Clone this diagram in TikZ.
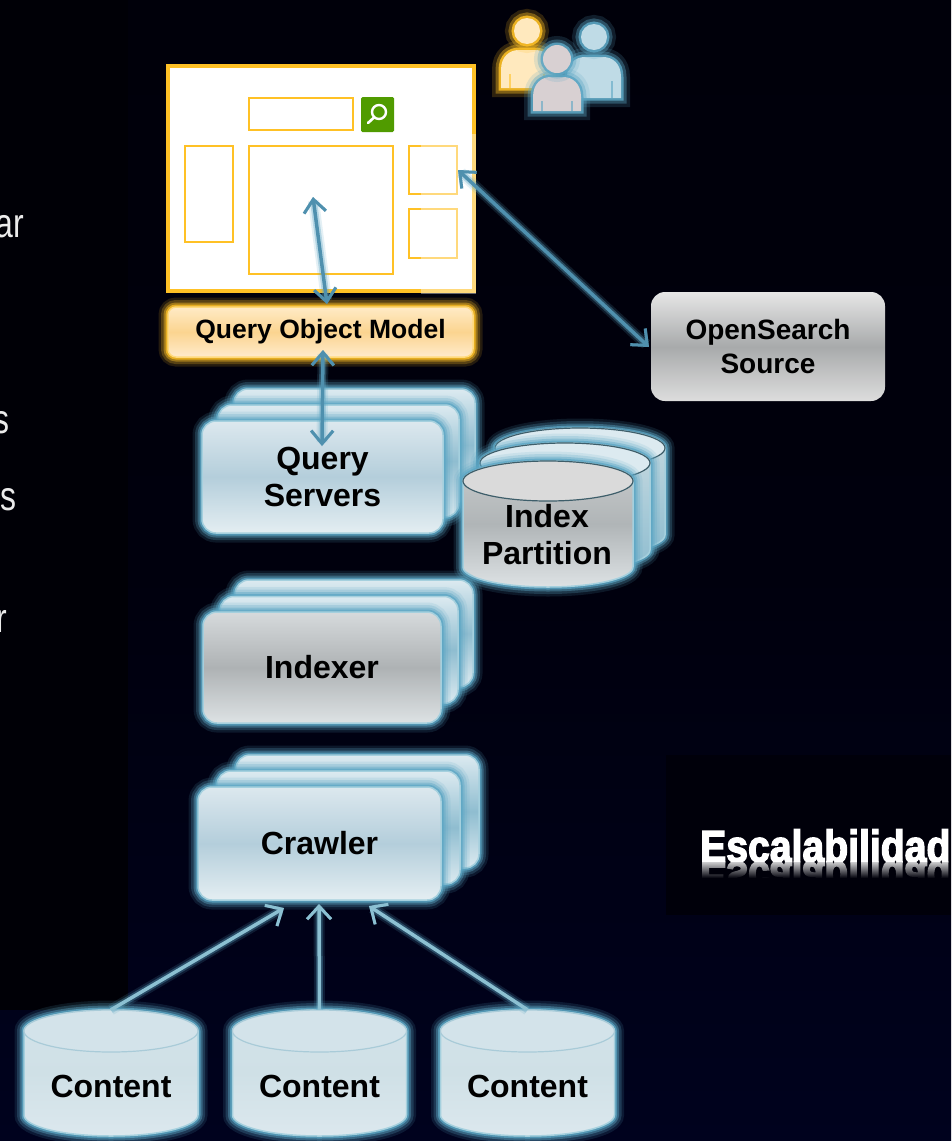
\documentclass[tikz,border=0pt]{standalone}
\usepackage{fontspec}
\setmainfont{Liberation Sans}
\newfontfamily\escfont{Liberation Sans}[BoldFeatures={FakeBold=3.2}]
\usetikzlibrary{arrows.meta,calc}
\definecolor{gold}{HTML}{FFC125}
\definecolor{glowb}{HTML}{5CA6C4}
\definecolor{edgeb}{HTML}{A5D0DE}
\definecolor{arrowb}{HTML}{4F90AE}
\definecolor{arrowl}{HTML}{8CC0D2}
\definecolor{patchk}{HTML}{00000A}
\definecolor{leftk}{HTML}{000006}
\definecolor{bgmid}{HTML}{00000D}
\definecolor{bgbot}{HTML}{00021E}
\definecolor{searchgreen}{HTML}{509B00}
\definecolor{pale}{HTML}{DCE8EE}
\definecolor{paleb}{HTML}{E4EEF2}
\definecolor{midb}{HTML}{B4CEDB}
\definecolor{backt}{HTML}{DCEAF0}
\definecolor{backm}{HTML}{8FBDD0}
\definecolor{greyt}{HTML}{D6DADC}
\definecolor{greyb}{HTML}{DDE2E4}
\definecolor{greym}{HTML}{AEB2B4}
\definecolor{persony}{HTML}{FFE9BE}
\definecolor{personb}{HTML}{BFDBE6}
\definecolor{persong}{HTML}{D8D0D2}
\definecolor{qomt}{HTML}{FFEBC6}
\definecolor{qomm}{HTML}{FBD490}
\definecolor{qomb}{HTML}{FFEBCB}
\definecolor{opent}{HTML}{E6E6E6}
\definecolor{openm}{HTML}{A8AAAB}
\definecolor{openb}{HTML}{DDDDDD}
\definecolor{drumt}{HTML}{C7D9E0}
\definecolor{drumm}{HTML}{A9CBD8}
\definecolor{indext}{HTML}{C8CBCC}
\definecolor{indexm}{HTML}{B0B5B7}
\definecolor{indexcap}{HTML}{DADADA}
\definecolor{contt}{HTML}{D3E3EA}
\definecolor{contm}{HTML}{CFE0E6}
\definecolor{capdark}{HTML}{3E5E6A}
\definecolor{capsoft}{HTML}{A9CBD8}
\tikzset{
  glow/.style={preaction={draw=#1,line width=19pt,opacity=.14},
               preaction={draw=#1,line width=14pt,opacity=.24},
               preaction={draw=#1,line width=9pt,opacity=.42},
               preaction={draw=#1,line width=5pt,opacity=.75}},
  softglow/.style={preaction={draw=#1,line width=11pt,opacity=.16},
               preaction={draw=#1,line width=7pt,opacity=.34}},
  manglow/.style={preaction={draw=#1,line width=18pt,opacity=.18},
               preaction={draw=#1,line width=11pt,opacity=.38},
               preaction={draw=#1,line width=5pt,opacity=.85}},
  plate/.style={rectangle,rounded corners=14pt,inner sep=0pt,line width=1.5pt,
                font=\bfseries\fontsize{32}{37}\selectfont,align=center,text=black},
  blueplate/.style={plate,draw=edgeb,glow=glowb,top color=pale,bottom color=paleb,middle color=midb},
  backplate/.style={plate,draw=edgeb,glow=glowb,top color=backt,bottom color=backt,middle color=backm},
  greyplate/.style={plate,draw=edgeb,glow=glowb,top color=greyt,bottom color=greyb,middle color=greym},
  panel/.style={rectangle,draw=gold,line width=1.4pt,fill=white,inner sep=0pt},
  lab/.style={inner sep=0pt,font=\bfseries\fontsize{32}{37}\selectfont,text=black,align=center},
  sidetext/.style={inner sep=0pt,xscale=.78,font=\fontsize{41}{41}\selectfont,text=black!8,anchor=base east},
  link/.style={draw=arrowb,line width=3.5pt,softglow=glowb,<->,
     >={Straight Barb[length=13pt,width=22pt,line width=3pt]}},
  feed/.style={draw=arrowl,line width=3.5pt,softglow=glowb,->,
     >={Straight Barb[length=13pt,width=24pt,line width=3pt]}},
}
\newcommand{\capline}{capsoft}
\newcommand{\capfill}{contt}
% name, cx, cy of top ellipse, rx, ry, body height, top colour, mid colour, bottom colour
\newcommand{\drum}[9]{%
  \pgfmathsetmacro{\dL}{#2-#4}\pgfmathsetmacro{\dR}{#2+#4}
  \pgfmathsetmacro{\dB}{#3+#6}
  \pgfmathsetmacro{\kx}{.5523*#4}\pgfmathsetmacro{\ky}{.5523*#5}
  \path[draw=edgeb,line width=1.5pt,glow=glowb,top color=#7,bottom color=#9,middle color=#8]
    (\dL,#3) -- (\dL,\dB)
    .. controls (\dL,\dB+\ky) and (#2-\kx,\dB+#5) .. (#2,\dB+#5)
    .. controls (#2+\kx,\dB+#5) and (\dR,\dB+\ky) .. (\dR,\dB)
    -- (\dR,#3)
    .. controls (\dR,#3-\ky) and (#2+\kx,#3-#5) .. (#2,#3-#5)
    .. controls (#2-\kx,#3-#5) and (\dL,#3-\ky) .. (\dL,#3) -- cycle;
  \path[draw=\capline,line width=1.2pt,fill=\capfill]
    (\dL,#3) .. controls (\dL,#3+\ky) and (#2-\kx,#3+#5) .. (#2,#3+#5)
    .. controls (#2+\kx,#3+#5) and (\dR,#3+\ky) .. (\dR,#3)
    .. controls (\dR,#3-\ky) and (#2+\kx,#3-#5) .. (#2,#3-#5)
    .. controls (#2-\kx,#3-#5) and (\dL,#3-\ky) .. (\dL,#3) -- cycle;
  \pgfmathsetmacro{\dW}{2*#4}\pgfmathsetmacro{\dH}{#6+2*#5}\pgfmathsetmacro{\dC}{#3+#6/2}
  \node[inner sep=0pt,minimum width=\dW pt,minimum height=\dH pt] (#1) at (#2,\dC) {};
}
% cx, head y, head r, half body width, body top, body bottom, fill, glow
\newcommand{\person}[8]{%
  \path[fill=#7,manglow=#8] (#1-#4,#6) -- (#1-#4,#5+20)
    .. controls (#1-#4,#5+6) and (#1-#4+9,#5) .. (#1-#4+18,#5)
    -- (#1+#4-18,#5) .. controls (#1+#4-9,#5) and (#1+#4,#5+6) .. (#1+#4,#5+20)
    -- (#1+#4,#6) -- cycle;
  \draw[#8,line width=1.5pt,opacity=.6] (#1-#4+9,#5+24) -- (#1-#4+9,#6);
  \draw[#8,line width=1.5pt,opacity=.6] (#1+#4-9,#5+24) -- (#1+#4-9,#6);
  \path[fill=#7,manglow=#8] (#1,#2) circle[radius=#3 pt];
}
\begin{document}
\begin{tikzpicture}[x=1pt,y=-1pt]
\useasboundingbox (0,0) rectangle (951,1141);
\clip (0,0) rectangle (951,1141);
% background
\shade[top color=patchk,bottom color=bgbot,middle color=bgmid] (0,0) rectangle (951,1141);
\fill[leftk] (0,0) rectangle (128,1010);
\fill[patchk] (666,755) rectangle (951,915);

% left column, cut by the page edge
\node[sidetext] (sa) at (24,237) {ar};
\node[sidetext] (sb) at (10,433) {s};
\node[sidetext] (sc) at (17,510) {es};
\node[sidetext] (sd) at (7,632) {r};

% users
\person{527}{31}{13}{26}{50}{88}{persony}{gold}
\person{594}{37}{13}{27}{57}{98}{personb}{glowb}
\person{557}{59}{14}{24}{77}{111}{persong}{glowb}

% web page
\node[rectangle,draw=gold,line width=3.5pt,fill=white,minimum width=306pt,minimum height=225pt,inner sep=0pt] (page) at (321,178.5) {};
\node[panel,minimum width=104pt,minimum height=32pt] (searchbox) at (301,114) {};
\node[rectangle,rounded corners=1.5pt,fill=searchgreen,minimum width=33pt,minimum height=35pt,inner sep=0pt] (searchbtn) at (377.5,114.5) {};
\draw[white,line width=2.4pt] (379,112) circle[radius=7pt];
\draw[white,line width=2.6pt,line cap=round] (374,117.5) -- (368,123);
\node[panel,minimum width=48pt,minimum height=96pt] (leftpanel) at (209,194) {};
\node[panel,minimum width=144pt,minimum height=128pt] (mainpanel) at (321,210) {};
\node[panel,minimum width=48pt,minimum height=48pt] (sidea) at (433,170) {};
\node[panel,minimum width=48pt,minimum height=49pt] (sideb) at (433,233.5) {};
\fill[white,opacity=.4] (421,134) rectangle (476,294);

% query object model
\node[plate,rounded corners=8pt,draw=gold!60!white,glow=gold,top color=qomt,bottom color=qomb,middle color=qomm,
      minimum width=305pt,minimum height=50pt,font=\bfseries\fontsize{26.5}{30}\selectfont] (qom) at (320.5,332) {Query Object Model};

% OpenSearch
\node[plate,top color=opent,bottom color=openb,middle color=openm,
      minimum width=234pt,minimum height=109pt,font=\bfseries\fontsize{28}{34}\selectfont] (open) at (768,346.5) {OpenSearch\\Source};

% query servers
\node[backplate,minimum width=241pt,minimum height=112pt] (qback) at (354.5,445) {};
\node[backplate,minimum width=241pt,minimum height=112pt] (qmid) at (338.5,461) {};
\node[blueplate,minimum width=241pt,minimum height=112pt] (query) at (322.5,477) {Query\\Servers};

% index partition
\renewcommand{\capline}{capdark}\renewcommand{\capfill}{backt}
\drum{iback}{580}{448}{85}{20}{87}{drumt}{drumm}{backm}
\drum{imid}{565}{463}{85}{20}{87}{drumt}{drumm}{backm}
\renewcommand{\capfill}{indexcap}
\drum{ifront}{548}{481}{85}{20}{86}{indext}{indexm}{greyb}
\node[lab] (indexlab) at (547,534.5) {Index\\Partition};

% indexer
\node[backplate,minimum width=238pt,minimum height=107pt] (xback) at (354,633.5) {};
\node[backplate,minimum width=238pt,minimum height=107pt] (xmid) at (339,650) {};
\node[greyplate,minimum width=238pt,minimum height=111pt] (indexer) at (322,667.5) {Indexer};

% crawler
\node[backplate,minimum width=243pt,minimum height=113pt] (cback) at (357.5,811.5) {};
\node[backplate,minimum width=243pt,minimum height=113pt] (cmid) at (338.5,827.5) {};
\node[blueplate,minimum width=243pt,minimum height=113pt] (crawler) at (319.5,843.5) {Crawler};

% content stores
\renewcommand{\capline}{capsoft}\renewcommand{\capfill}{contt}
\drum{cone}{111}{1031}{87}{21}{84}{contt}{contm}{pale}
\node[lab] (conelab) at (111,1086) {Content};
\drum{ctwo}{319.5}{1031}{87}{21}{84}{contt}{contm}{pale}
\node[lab] (ctwolab) at (319.5,1086) {Content};
\drum{cthree}{527.5}{1031}{87}{21}{84}{contt}{contm}{pale}
\node[lab] (cthreelab) at (527.5,1086) {Content};

% connectors
\coordinate (pagein) at (313,197);
\coordinate (pageout) at (327,304);
\coordinate (qomout) at (323,350);
\coordinate (queryin) at (322,446);
\coordinate (sidein) at (458,170);
\coordinate (openin) at (649,347);
\coordinate (crawla) at (284,908);
\coordinate (crawlb) at (319,904);
\coordinate (crawlc) at (369,906);
\draw[link] (pagein) -- (pageout);
\draw[link] (qomout) -- (queryin);
\draw[link] (sidein) -- (openin);
\draw[feed] (cone.north) -- (crawla);
\draw[feed] (ctwo.north) -- (crawlb);
\draw[feed] (cthree.north) -- (crawlc);

% title with its reflection
\node[inner sep=0pt,anchor=base west,text=white,xscale=.87,font=\escfont\bfseries\fontsize{45}{45}\selectfont] (esc) at (700,862) {Escalabilidad};
\node[inner sep=0pt,anchor=base west,text=white,xscale=.87,yscale=-1,font=\escfont\bfseries\fontsize{45}{45}\selectfont] (escr) at (700,862) {Escalabilidad};
\foreach \i in {0,...,17}{
  \pgfmathsetmacro{\op}{min(1,.2+\i/20)}
  \fill[patchk,opacity=\op] (690,862+\i) rectangle (951,863+\i);
}
\fill[patchk] (690,880) rectangle (951,905);
\end{tikzpicture}
\end{document}
